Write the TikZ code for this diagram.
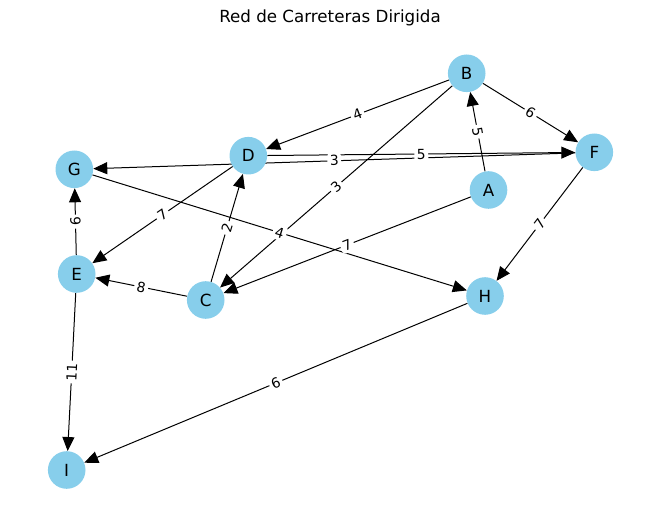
\documentclass[tikz,border=0pt]{standalone}
\usepackage{fontspec}
\setmainfont{DejaVu Sans}
\usetikzlibrary{arrows.meta}
\pgfdeclarelayer{bg}
\pgfsetlayers{bg,main}
\definecolor{skyb}{HTML}{87CEEB}
\begin{document}
\begin{tikzpicture}[x=1pt,y=1pt,
  vtx/.style={circle,fill=skyb,minimum size=37.6pt,inner sep=0pt,font=\fontsize{16.7}{18}\selectfont},
  edg/.style={line width=1pt,-{Triangle[length=14pt,width=12pt]}},
  lblbase/.style={midway,fill=white,inner sep=2.5pt,rounded corners=3pt,font=\fontsize{13.9}{15}\selectfont},
  lbl/.style={lblbase,sloped}]
\useasboundingbox (0,0) rectangle (660,522);
\node[font=\fontsize{16.7}{18}\selectfont] (title) at (330,504) {Red de Carreteras Dirigida};
\node[vtx] (B) at (466.7,448.7) {B};
\node[vtx] (F) at (594.3,369.7) {F};
\node[vtx] (D) at (248.3,366.3) {D};
\node[vtx] (A) at (488.5,332) {A};
\node[vtx] (G) at (74.3,352.7) {G};
\node[vtx] (E) at (76.7,248) {E};
\node[vtx] (C) at (205.7,222) {C};
\node[vtx] (H) at (485,226) {H};
\node[vtx] (I) at (66.7,52) {I};
\begin{pgfonlayer}{bg}
\draw[edg] (B) -- (D);
\draw[edg] (B) -- (F);
\draw[edg] (A) -- (B);
\draw[edg] (D) -- (F);
\draw[edg] (F) -- (G);
\draw[edg] (B) -- (C);
\draw[edg] (A) -- (C);
\draw[edg] (G) -- (H);
\draw[edg] (D) -- (E);
\draw[edg] (C) -- (D);
\draw[edg] (C) -- (E);
\draw[edg] (E) -- (G);
\draw[edg] (E) -- (I);
\draw[edg] (H) -- (I);
\draw[edg] (F) -- (H);
\path (B) -- (D) node[lbl] {4};
\path (B) -- (F) node[lbl] {6};
\path (B) -- (A) node[lblbase,rotate=-79.4] {5};
\path (D) -- (F) node[lbl] {5};
\path (F) -- (G) node[lbl] {3};
\path (B) -- (C) node[lbl] {3};
\path (A) -- (C) node[lbl] {7};
\path (G) -- (H) node[lbl] {4};
\path (D) -- (E) node[lbl] {7};
\path (C) -- (D) node[lbl] {2};
\path (C) -- (E) node[lbl] {8};
\path (G) -- (E) node[lblbase,rotate=91.3] {6};
\path (E) -- (I) node[lblbase,rotate=87.1] {11};
\path (H) -- (I) node[lbl] {6};
\path (F) -- (H) node[lbl] {7};
\end{pgfonlayer}
\end{tikzpicture}
\end{document}
